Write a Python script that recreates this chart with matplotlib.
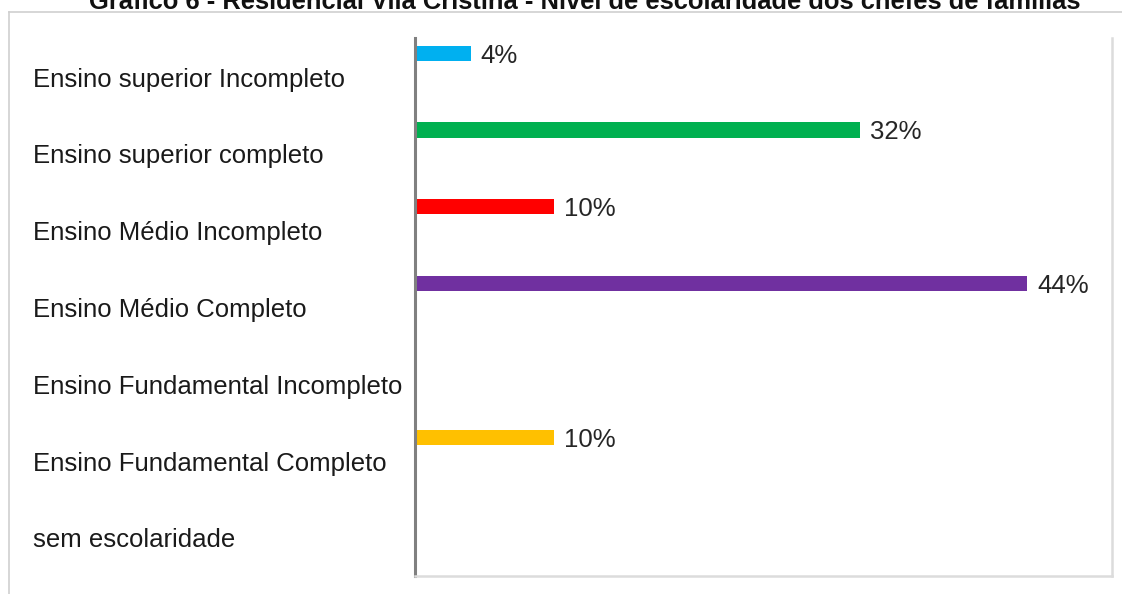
import numpy as np
import matplotlib.pyplot as plt
from matplotlib.lines import Line2D

plt.rcParams["font.family"] = ["Liberation Sans", "DejaVu Sans"]

categorias = [
    "Ensino superior Incompleto",
    "Ensino superior completo",
    "Ensino Médio Incompleto",
    "Ensino Médio Completo",
    "Ensino Fundamental Incompleto",
    "Ensino Fundamental Completo",
    "sem escolaridade",
]
percentuais = [4, 32, 10, 44, None, 10, None]  # %
cores = ["#00B0F0", "#00B050", "#FF0000", "#7030A0", "#7F7F7F", "#FFC000", "#7F7F7F"]

titulo = "Gráfico 6 - Residencial Vila Cristina - Nível de escolaridade dos chefes de famílias"

W, H = 1122, 594
fig = plt.figure(figsize=(W / 100, H / 100), dpi=100)

# moldura externa do gráfico
frame_kw = dict(color="#cfcfcf", lw=1.2, transform=fig.transFigure)
fig.add_artist(Line2D([9 / W, 1.0], [1 - 12 / H, 1 - 12 / H], **frame_kw))
fig.add_artist(Line2D([9 / W, 9 / W], [0, 1 - 12 / H], **frame_kw))

# título (parte superior fica fora da página)
fig.text(585 / W, 1 - 9 / H, titulo, ha="center", va="baseline",
         fontsize=18.4, fontweight="bold", color="#111111")

left, right, top, bottom = 415, 1112, 38, 576
ax = fig.add_axes([left / W, 1 - bottom / H, (right - left) / W, (bottom - top) / H])

passo = 76.8
ax.set_ylim((bottom - 77) / passo, (top - 77) / passo)
ax.set_xlim(0, (right - left) / 13.92)

ypos = np.arange(len(categorias))
for i, (v, c) in enumerate(zip(percentuais, cores)):
    if v is None:
        continue
    ax.barh(i - 0.31, v, height=0.196, color=c, edgecolor="none")
    ax.annotate(f"{v}%", (v, i - 0.31), xytext=(7, 0), textcoords="offset points",
                ha="left", va="center_baseline", fontsize=18.5, color="#262626")

ax.set_yticks(ypos, categorias)
for t in ax.get_yticklabels():
    t.set_ha("left")
    t.set_fontsize(18.5)
    t.set_color("#1a1a1a")
ax.tick_params(axis="y", length=0, pad=(left - 33) * 0.72)
ax.set_xticks([])

ax.spines["top"].set_visible(False)
ax.spines["left"].set_color("#808080")
ax.spines["left"].set_linewidth(2.2)
for s in ("right", "bottom"):
    ax.spines[s].set_color("#dcdcdc")
    ax.spines[s].set_linewidth(1.8)

fig.savefig("out.png", dpi=100)
